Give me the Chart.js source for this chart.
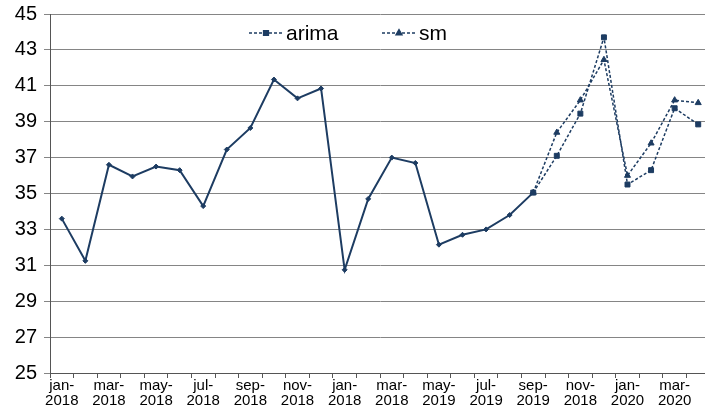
<!DOCTYPE html>
<html>
<head>
<meta charset="utf-8">
<script src="https://cdn.jsdelivr.net/npm/chart.js@4"></script>
<style>
  html, body { margin: 0; padding: 0; background: #fff; overflow: hidden; }
  #wrap { width: 715px; height: 407px; }
</style>
</head>
<body>
<div id="wrap"><canvas id="chart"></canvas></div>
<script>
// monthly categories (jan 2018 .. apr 2020)
const months = ['jan-2018','feb-2018','mar-2018','apr-2018','may-2018','jun-2018','jul-2018','aug-2018',
  'sep-2018','oct-2018','nov-2018','dec-2018','jan-2019','feb-2019','mar-2019','apr-2019','may-2019',
  'jun-2019','jul-2019','aug-2019','sep-2019','oct-2019','nov-2019','dec-2019','jan-2020','feb-2020',
  'mar-2020','apr-2020'];
// labels printed under the axis (every second month), as in the original
const tickLabels = ['jan-2018','mar-2018','may-2018','jul-2018','sep-2018','nov-2018','jan-2018',
  'mar-2018','may-2019','jul-2019','sep-2019','nov-2018','jan-2020','mar-2020'];

const actual = [33.6, 31.25, 36.6, 35.95, 36.5, 36.3, 34.3, 37.45, 38.65, 41.35, 40.3, 40.85,
  30.75, 34.7, 37.0, 36.7, 32.15, 32.7, 33.0, 33.8, 35.05,
  null, null, null, null, null, null, null];
const arima = [null, null, null, null, null, null, null, null, null, null, null, null,
  null, null, null, null, null, null, null, null, 35.05,
  37.1, 39.45, 43.7, 35.5, 36.3, 39.75, 38.85];
const sm = [null, null, null, null, null, null, null, null, null, null, null, null,
  null, null, null, null, null, null, null, null, 35.05,
  38.4, 40.2, 42.45, 36.0, 37.8, 40.2, 40.05];

const navy = '#1d3c62';
const font = '"Liberation Sans", Arial, sans-serif';

const legendBox = {
  id: 'legendBox',
  afterDraw(chart) {
    const ctx = chart.ctx;
    ctx.save();
    ctx.fillStyle = '#fff';
    ctx.fillRect(215, 20, 265, 26);
    const items = [
      { label: 'arima', x: 249, style: 'rect' },
      { label: 'sm', x: 382, style: 'triangle' }
    ];
    const y = 33;
    items.forEach(it => {
      ctx.strokeStyle = navy;
      ctx.lineWidth = 1.3;
      ctx.setLineDash([3, 2]);
      ctx.beginPath();
      ctx.moveTo(it.x, y);
      ctx.lineTo(it.x + 34, y);
      ctx.stroke();
      ctx.setLineDash([]);
      ctx.fillStyle = navy;
      Chart.helpers.drawPoint(ctx, { pointStyle: it.style, radius: 3.5, borderWidth: 1 }, it.x + 17, y);
      ctx.fillStyle = '#000';
      ctx.font = '21px ' + font;
      ctx.textBaseline = 'middle';
      ctx.fillText(it.label, it.x + 37, y + 1);
    });
    ctx.restore();
  }
};

const ctx = document.getElementById('chart').getContext('2d');

new Chart(ctx, {
  type: 'line',
  data: {
    labels: months,
    datasets: [
      {
        label: 'arima',
        data: arima,
        borderColor: navy,
        backgroundColor: navy,
        borderWidth: 1.5,
        borderDash: [3, 2],
        pointStyle: 'rect',
        pointRadius: 3.5,
        pointBorderWidth: 1,
        order: 0
      },
      {
        label: 'sm',
        data: sm,
        borderColor: navy,
        backgroundColor: navy,
        borderWidth: 1.5,
        borderDash: [3, 2],
        pointStyle: 'triangle',
        pointRadius: 3.5,
        pointBorderWidth: 1,
        order: 1
      },
      {
        label: 'actual',
        data: actual,
        borderColor: navy,
        backgroundColor: navy,
        borderWidth: 2,
        pointStyle: 'rectRot',
        pointRadius: 2.5,
        pointBorderWidth: 1,
        order: 2
      }
    ]
  },
  options: {
    responsive: true,
    maintainAspectRatio: false,
    animation: false,
    spanGaps: false,
    layout: { padding: { top: 14, right: 0, left: 0, bottom: 0 } },
    plugins: {
      legend: { display: false },
      tooltip: { enabled: false }
    },
    scales: {
      x: {
        offset: true,
        afterFit: s => { s.height = 34; },
        grid: {
          offset: true,
          drawOnChartArea: false,
          drawTicks: true,
          tickLength: 5,
          color: '#555'
        },
        border: { color: '#555', width: 1 },
        ticks: {
          autoSkip: false,
          maxRotation: 0,
          minRotation: 0,
          padding: 0,
          color: '#000',
          font: { family: font, size: 15, lineHeight: 1.0 },
          callback: function(value, index) {
            if (index % 2 !== 0) return '';
            const t = tickLabels[index / 2];
            const p = t.indexOf('-');
            return [t.slice(0, p + 1), t.slice(p + 1)];
          }
        }
      },
      y: {
        min: 25,
        max: 45,
        afterFit: s => { s.width = 50; },
        grid: {
          color: '#858585',
          lineWidth: 1,
          tickLength: 6
        },
        border: { color: '#555', width: 1 },
        ticks: {
          stepSize: 2,
          padding: 7,
          color: '#000',
          font: { family: font, size: 20, lineHeight: 0.5 }
        }
      }
    }
  },
  plugins: [legendBox]
});
</script>
</body>
</html>
